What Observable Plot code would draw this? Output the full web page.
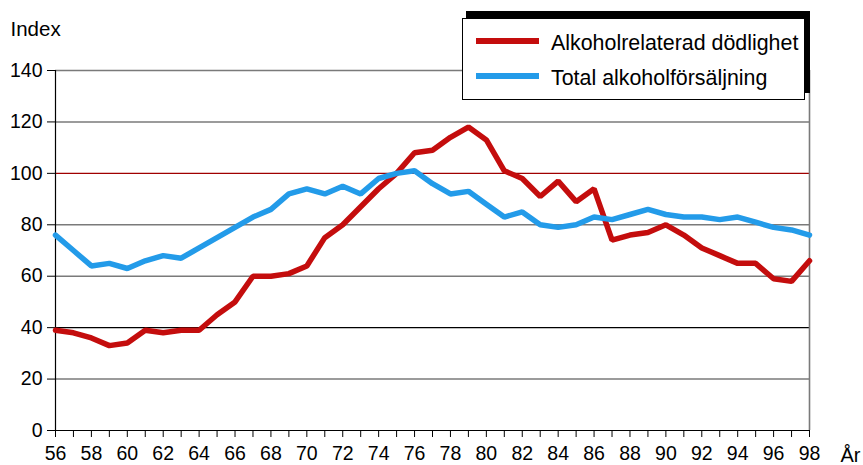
<!DOCTYPE html>
<html>
<head>
<meta charset="utf-8">
<script src="https://cdn.jsdelivr.net/npm/d3@7"></script>
<script src="https://cdn.jsdelivr.net/npm/@observablehq/plot@0.6"></script>
<style>
  html, body { margin: 0; padding: 0; background: #fff; }
  #wrap { position: relative; width: 863px; height: 465px; font-family: "Liberation Sans", Arial, sans-serif; }
  .legend-shadow { position: absolute; left: 466px; top: 11px; width: 344px; height: 82px; background: #000; }
  .legend { position: absolute; left: 462px; top: 18px; width: 341px; height: 80px; background: #fff; border: 1px solid #000; }
  .legend .item { position: absolute; left: 0; height: 24px; width: 100%; }
  .legend .sw { position: absolute; left: 13px; width: 63px; height: 6px; }
  .legend .lab { position: absolute; left: 88px; font-size: 21.4px; line-height: 24px; color: #000; white-space: nowrap; }
</style>
</head>
<body>
<div id="wrap"></div>
<script>
const years = d3.range(56, 99);
const dodlighet = [39,38,36,33,34,39,38,39,39,45,50,60,60,61,64,75,80,87,94,100,108,109,114,118,113,101,98,91,97,89,94,74,76,77,80,76,71,68,65,65,59,58,66];
const forsaljning = [76,70,64,65,63,66,68,67,71,75,79,83,86,92,94,92,95,92,98,100,101,96,92,93,88,83,85,80,79,80,83,82,84,86,84,83,83,82,83,81,79,78,76];
const seriesNames = ["Alkoholrelaterad dödlighet", "Total alkoholförsäljning"];
const seriesColors = ["#c40d0d", "#239be9"];
const yTicks = [0, 20, 40, 60, 80, 100, 120, 140];
const grayGrid = [20, 60, 80, 120, 140];

const rows = [];
years.forEach((y, i) => {
  rows.push({year: y, value: dodlighet[i], series: seriesNames[0]});
  rows.push({year: y, value: forsaljning[i], series: seriesNames[1]});
});

const chart = Plot.plot({
  width: 863,
  height: 465,
  marginLeft: 55,
  marginRight: 54,
  marginTop: 70,
  marginBottom: 35,
  style: {fontFamily: "Liberation Sans, Arial, sans-serif", fontSize: "19.5px", background: "#fff", color: "#000", overflow: "visible"},
  x: {domain: [56, 98]},
  y: {domain: [0, 140]},
  color: {domain: seriesNames, range: seriesColors},
  marks: [
    Plot.ruleY(grayGrid, {stroke: "#7a7a7a", strokeWidth: 1.6}),
    Plot.ruleY([100], {stroke: "#a00000", strokeWidth: 1.2}),
    Plot.ruleY([40], {stroke: "#000", strokeWidth: 1.2}),
    Plot.ruleX([98], {stroke: "#7a7a7a", strokeWidth: 1.6}),
    Plot.axisY({ticks: yTicks, tickSize: 8, tickPadding: 5, label: null, fontSize: 19.5}),
    Plot.axisX({ticks: years, tickSize: 7, tickPadding: 9, tickFormat: d => d % 2 ? "" : String(d), label: null, fontSize: 19.5}),
    Plot.ruleX([56], {stroke: "#000", strokeWidth: 1.2}),
    Plot.ruleY([0], {stroke: "#000", strokeWidth: 1.2}),
    Plot.line(rows, {x: "year", y: "value", z: "series", stroke: "series", strokeWidth: 5.5, strokeLinejoin: "miter"}),
    Plot.text(["Index"], {frameAnchor: "top-left", dx: -45, dy: -35, textAnchor: "start", lineAnchor: "bottom", fontSize: 20.5}),
    Plot.text(["År"], {frameAnchor: "bottom-right", dx: 31, dy: 31, textAnchor: "start", lineAnchor: "bottom", fontSize: 20})
  ]
});

const wrap = document.getElementById("wrap");
wrap.appendChild(chart);

const shadow = document.createElement("div");
shadow.className = "legend-shadow";
wrap.appendChild(shadow);
const legend = document.createElement("div");
legend.className = "legend";
seriesNames.forEach((name, i) => {
  const item = document.createElement("div");
  item.className = "item";
  item.style.top = (i === 0 ? 10 : 45) + "px";
  const sw = document.createElement("div");
  sw.className = "sw";
  sw.style.background = seriesColors[i];
  sw.style.top = "9px";
  const lab = document.createElement("div");
  lab.className = "lab";
  lab.style.top = "2px";
  lab.textContent = name;
  item.appendChild(sw);
  item.appendChild(lab);
  legend.appendChild(item);
});
wrap.appendChild(legend);
</script>
</body>
</html>
